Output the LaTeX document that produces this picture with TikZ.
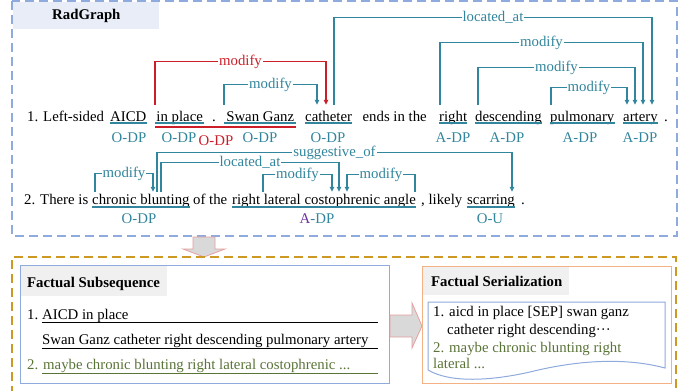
\documentclass[tikz,border=0pt]{standalone}
\usepackage{fontspec}
\setmainfont{Liberation Serif}
\usetikzlibrary{arrows.meta}
\definecolor{teal2}{RGB}{49,133,156}
\definecolor{red2}{RGB}{204,30,40}
\definecolor{green2}{RGB}{90,115,55}
\definecolor{purple2}{RGB}{112,48,160}
\definecolor{blueD}{RGB}{143,170,220}
\definecolor{orangeD}{RGB}{204,153,36}
\definecolor{orangeB}{RGB}{244,177,131}
\definecolor{hdrgray}{RGB}{240,240,240}
\definecolor{rgfill}{RGB}{233,237,248}
\definecolor{arrfill}{RGB}{217,217,217}
\definecolor{arrdraw}{RGB}{230,160,160}
\newcommand\myfs{\fontsize{14.8}{17}\selectfont}
\tikzset{
  w0/.style={anchor=base west, inner sep=0pt},
  w1/.style={anchor=base west, inner sep=0pt, text height=16pt, text depth=4pt},
  w2/.style={anchor=base west, inner sep=0pt, text height=12pt, text depth=4pt},
  lbl/.style={fill=white, inner sep=1pt, text=teal2},
  arcT/.style={draw=teal2, line width=1.1pt, -{Triangle[length=5pt,width=4.5pt]}},
  arcR/.style={draw=red2, line width=1.1pt, -{Triangle[length=5pt,width=4.5pt]}},
  ul/.style={draw=teal2, line width=1.1pt},
  tag/.style={anchor=base, inner sep=0pt, text=teal2},
  hdr/.style={anchor=base west, inner sep=0pt, font=\myfs\bfseries},
  bigarrow/.style={fill=arrfill, draw=arrdraw, line width=0.8pt},
}
\begin{document}
\begin{tikzpicture}[x=1pt,y=-1pt,font=\myfs]
\useasboundingbox (0,0) rectangle (691,391);

% ---------- RadGraph frame ----------
\draw[blueD, line width=1.3pt, dash pattern=on 9pt off 5pt] (12,1) rectangle (677,236);
\fill[rgfill] (13,2) rectangle (159,29);
\node[hdr] (rg) at (52,19) {RadGraph};

% ---------- sentence 1 ----------
\node[w1] (s1a) at (27,121) {1. Left-sided};
\node[w1] (aicd) at (110,121) {AICD};
\node[w1,minimum width=49pt] (inplace) at (155,121) {in place};
\node[w1] (dot1) at (212,121) {.};
\node[w1,minimum width=72pt] (swan) at (224,121) {Swan Ganz};
\node[w1] (cath) at (305,121) {catheter};
\node[w1,minimum width=73pt] (ends) at (358,121) {ends in the};
\node[w1] (right) at (439,121) {right};
\node[w1] (desc) at (475,121) {descending};
\node[w1] (pulm) at (550,121) {pulmonary};
\node[w1] (artery) at (623,121) {artery};
\node[w1] (dot2) at (664,121) {.};
\foreach \n in {aicd,inplace,swan,cath,right,desc,pulm,artery}
  \draw[ul] ([yshift=-2pt]\n.base west) -- ([yshift=-2pt]\n.base east);
\draw[draw=red2, line width=1.1pt] ([yshift=-6pt]inplace.base west) -- ([yshift=-6pt]swan.base east);

\node[tag] (t1) at (129,142) {O-DP};
\node[tag] (t2) at (179,142) {O-DP};
\node[tag,text=red2] (t3) at (216,145) {O-DP};
\node[tag] (t4) at (260,142) {O-DP};
\node[tag] (t5) at (328,142) {O-DP};
\node[tag] (t6) at (453,142) {A-DP};
\node[tag] (t7) at (507,142) {A-DP};
\node[tag] (t8) at (580,142) {A-DP};
\node[tag] (t9) at (640,142) {A-DP};

\draw[arcR] (inplace.north west) -- ++(0,-43) -| node[lbl,pos=0.25,text=red2]{modify} ([xshift=21pt]cath.north west);
\draw[arcT] (swan.north west) -- ++(0,-20) -| node[lbl,pos=0.25]{modify} ([xshift=12pt]cath.north west);
\draw[arcT] ([xshift=29pt]cath.north west) -- ++(0,-87) -| node[lbl,pos=0.25]{located\_at} ([xshift=29pt]artery.north west);
\draw[arcT] ([xshift=1pt]right.north west) -- ++(0,-62) -| node[lbl,pos=0.25]{modify} ([xshift=20pt]artery.north west);
\draw[arcT] ([xshift=3pt]desc.north west) -- ++(0,-37) -| node[lbl,pos=0.25]{modify} ([xshift=12pt]artery.north west);
\draw[arcT] ([xshift=1pt]pulm.north west) -- ++(0,-17) -| node[lbl,pos=0.25]{modify} ([xshift=4pt]artery.north west);

% ---------- sentence 2 ----------
\node[w2] (s2a) at (24,204) {2. There is};
\node[w2] (cb) at (92,204) {chronic blunting};
\node[w2] (ofthe) at (193,204) {of the};
\node[w2] (rlca) at (232,204) {right lateral costophrenic angle};
\node[w2] (likely) at (421,204) {, likely};
\node[w2] (scar) at (467,204) {scarring};
\node[w2] (dot3) at (521,204) {.};
\foreach \n in {cb,rlca,scar}
  \draw[ul] ([yshift=-3pt]\n.base west) -- ([yshift=-3pt]\n.base east);

\node[tag] (u1) at (139,223) {O-DP};
\node[tag] (u2) at (317,223) {\textcolor{purple2}{A}-DP};
\node[tag] (u3) at (490,223) {O-U};

\draw[arcT] ([xshift=3pt]cb.north west) -- ++(0,-18) -| node[lbl,pos=0.25]{modify} ([xshift=61pt]cb.north west);
\draw[arcT] ([xshift=65pt]cb.north west) -- ++(0,-39) -| node[lbl,pos=0.25]{suggestive\_of} ([xshift=45pt]scar.north west);
\draw[arcT] ([xshift=69pt]cb.north west) -- ++(0,-29) -| node[lbl,pos=0.25]{located\_at} ([xshift=107pt]rlca.north west);
\draw[arcT] ([xshift=31pt]rlca.north west) -- ++(0,-17) -| node[lbl,pos=0.25]{modify} ([xshift=100pt]rlca.north west);
\draw[arcT] ([xshift=183pt]rlca.north west) -- ++(0,-17) -| node[lbl,pos=0.25]{modify} ([xshift=115pt]rlca.north west);

% ---------- down arrow ----------
\draw[bigarrow] (193,237) -- (215,237) -- (215,249) -- (225,249) -- (204,257) -- (183,249) -- (193,249) -- cycle;

% ---------- bottom frame ----------
\draw[orangeD, line width=1.3pt, dash pattern=on 9pt off 5pt] (12,395) -- (12,257) -- (676,257) -- (676,395);

% Factual Subsequence
\draw[blueD, line width=1pt] (20,265) rectangle (389,383);
\fill[hdrgray] (21,266) rectangle (167,296);
\node[hdr] (fsh) at (27,287) {Factual Subsequence};
\node[w0] (f1n) at (27,319) {1.};
\node[w0] (f1) at (42,319) {AICD in place};
\node[w0] (f2) at (42,344) {Swan Ganz catheter right descending pulmonary artery};
\node[w0,text=green2] (f3) at (27,369) {2. maybe chronic blunting right lateral costophrenic ...};
\draw[black, line width=0.9pt] ([yshift=-3pt]f1.base west) -- ++(336,0);
\draw[black, line width=0.9pt] ([yshift=-4pt]f2.base west) -- ++(336,0);
\draw[green2, line width=0.9pt] ([xshift=15pt,yshift=-4pt]f3.base west) -- ++(336,0);

% right arrow
\draw[bigarrow] (390,315) -- (412,315) -- (412,303) -- (422,326) -- (412,348) -- (412,337) -- (390,337) -- cycle;

% Factual Serialization
\draw[orangeB, line width=1pt] (422,266) rectangle (671,383);
\fill[hdrgray] (423,267) rectangle (569,295);
\node[hdr] (fsr) at (431,286) {Factual Serialization};
\draw[blueD, line width=1pt] (428,370) -- (428,302) -- (665,302) -- (665,368)
  .. controls (620,356) and (570,362) .. (530,372) .. controls (490,381) and (450,383) .. (428,370);
\node[w0] (r1) at (433,316) {1. aicd in place [SEP] swan ganz};
\node[w0] (r2) at (447,334) {catheter right descending···};
\node[w0,text=green2] (r3) at (433,352) {2. maybe chronic blunting right};
\node[w0,text=green2] (r4) at (433,368) {lateral ...};
\end{tikzpicture}
\end{document}
